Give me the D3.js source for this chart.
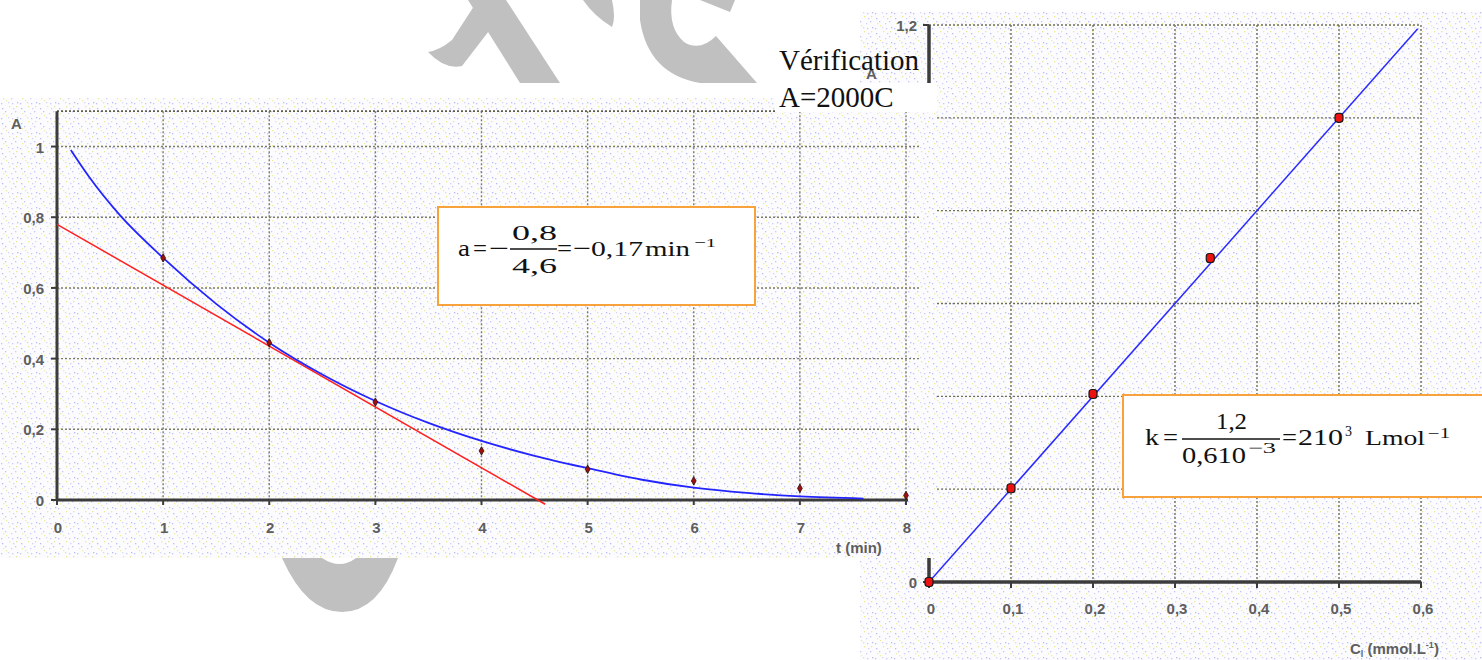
<!DOCTYPE html>
<html>
<head>
<meta charset="utf-8">
<script src="https://cdn.jsdelivr.net/npm/d3@7"></script>
<style>
  body { margin: 0; background: #fff; }
  svg { display: block; }
  .tick-lbl { font-family: "Liberation Sans", Arial, sans-serif; font-size: 15px; font-weight: bold; fill: #5e5e5e; }
  .eq { font-family: "Liberation Serif", "Times New Roman", serif; fill: #111; }
</style>
</head>
<body>
<div id="chart"></div>
<script>
// ---- data: left chart, A = f(t) ----
var tValues = [1, 2, 3, 4, 5, 6, 7, 8];
var aValues = [0.685, 0.445, 0.277, 0.139, 0.087, 0.054, 0.033, 0.013];
var fitT = [0.13, 0.3, 0.58, 1, 1.5, 2, 2.5, 3, 3.5, 4, 4.5, 5, 5.5, 6, 6.5, 7, 7.6];
var fitA = [0.99, 0.915, 0.81, 0.685, 0.555, 0.445, 0.355, 0.28, 0.218, 0.167, 0.125, 0.09, 0.058, 0.035, 0.02, 0.01, 0.004];
var tangentT = [0, 4.6];
var tangentA = [0.78, -0.012];
var tTicks = [0, 1, 2, 3, 4, 5, 6, 7, 8];
var aTicks = [0, 0.2, 0.4, 0.6, 0.8, 1];

// ---- data: right chart, A = f(C) ----
var cValues = [0, 0.1, 0.2, 0.343, 0.5];
var absValues = [0, 0.202, 0.405, 0.698, 1.0];
var lineC = [0, 0.596];
var lineA = [0, 1.192];
var cTicks = [0, 0.1, 0.2, 0.3, 0.4, 0.5, 0.6];
var absTicks = [0, 0.2, 0.4, 0.6, 0.8, 1, 1.2];

var W = 1482, H = 660;
var fmt = function(d) { return String(+d.toFixed(2)).replace('.', ','); };

var svg = d3.select('#chart').append('svg')
  .attr('width', W)
  .attr('height', H);

svg.append('rect').attr('width', W).attr('height', H).attr('fill', '#fff');

// speckled scan texture
var defs = svg.append('defs');
var pat = defs.append('pattern')
  .attr('id', 'speckle')
  .attr('patternUnits', 'userSpaceOnUse')
  .attr('width', 19).attr('height', 15);
pat.append('rect').attr('width', 19).attr('height', 15).attr('fill', '#fcfcff');
[[2,3,'#b9bcf0'],[9,1,'#eeea88'],[15,6,'#c4c6f3'],[17,12,'#b9bcf0'],[6,10,'#f2ee96'],
 [12,13,'#c8caf4'],[16,1,'#e6e39a'],[1,13,'#bfc1f2'],[11,8,'#d0d2f6'],[5,6,'#c6c8f3'],
 [8,12,'#d6d8f7'],[13,3,'#cfd1f5'],[3,8,'#efec9e']]
  .forEach(function(p) {
    pat.append('rect').attr('x', p[0]).attr('y', p[1]).attr('width', 1.3).attr('height', 1.3).attr('fill', p[2]);
  });

// ---- grey watermark pieces ----
var wm = svg.append('g').attr('fill', '#c0c0c0');
wm.append('path').attr('d', 'M428,52 Q445,70 462,66 L505,10 L497,0 L478,0 L452,40 Q440,50 428,52 Z');
wm.append('path').attr('d', 'M468,0 L506,0 L560,83 L520,83 Z');
wm.append('path').attr('d', 'M583,0 L612,0 Q616,18 612,27 Q594,16 583,0 Z');
wm.append('path').attr('d', 'M640,0 L672,0 Q668,28 684,42 Q700,52 716,36 L757,83 L700,83 Q648,74 640,20 Z');
wm.append('path').attr('d', 'M700,0 L735,0 L730,12 Z');
wm.append('path').attr('d', 'M282,558 L322,558 Q340,570 356,558 L398,558 Q378,612 342,612 Q306,612 282,558 Z');

// ================= right chart =================
var xR = d3.scaleLinear().domain([0, 0.6]).range([929, 1421]);
var yR = d3.scaleLinear().domain([0, 1.2]).range([582, 25]);

var right = svg.append('g');
right.append('rect').attr('x', 860).attr('y', 12).attr('width', W - 860).attr('height', H - 12)
  .attr('fill', 'url(#speckle)');

right.append('g').selectAll('line').data(absTicks.slice(1)).enter().append('line')
  .attr('x1', xR(0)).attr('x2', xR(0.6))
  .attr('y1', function(d) { return yR(d); }).attr('y2', function(d) { return yR(d); })
  .attr('stroke', '#6f6f58').attr('stroke-width', 1.4).attr('stroke-dasharray', '2,2');
right.append('g').selectAll('line').data(cTicks.slice(1)).enter().append('line')
  .attr('x1', function(d) { return xR(d); }).attr('x2', function(d) { return xR(d); })
  .attr('y1', yR(1.2)).attr('y2', yR(0))
  .attr('stroke', '#6f6f58').attr('stroke-width', 1.4).attr('stroke-dasharray', '2,2');

// axes
right.append('line').attr('x1', xR(0)).attr('x2', xR(0.6)).attr('y1', yR(0)).attr('y2', yR(0))
  .attr('stroke', '#3c3c3c').attr('stroke-width', 3.5);
right.append('line').attr('x1', xR(0)).attr('x2', xR(0)).attr('y1', yR(1.2)).attr('y2', yR(0))
  .attr('stroke', '#3c3c3c').attr('stroke-width', 3.5);
right.append('g').selectAll('line').data(cTicks).enter().append('line')
  .attr('x1', function(d) { return xR(d); }).attr('x2', function(d) { return xR(d); })
  .attr('y1', yR(0)).attr('y2', yR(0) + 6)
  .attr('stroke', '#3c3c3c').attr('stroke-width', 2);
right.append('g').selectAll('line').data(absTicks).enter().append('line')
  .attr('x1', xR(0) - 6).attr('x2', xR(0))
  .attr('y1', function(d) { return yR(d); }).attr('y2', function(d) { return yR(d); })
  .attr('stroke', '#3c3c3c').attr('stroke-width', 2);

right.append('g').selectAll('text').data(cTicks).enter().append('text')
  .attr('class', 'tick-lbl')
  .attr('x', function(d) { return xR(d) + 2; })
  .attr('y', yR(0) + 32)
  .attr('text-anchor', 'middle')
  .text(fmt);
right.append('g').selectAll('text').data(absTicks).enter().append('text')
  .attr('class', 'tick-lbl')
  .attr('x', xR(0) - 12)
  .attr('y', function(d) { return yR(d) + 6; })
  .attr('text-anchor', 'end')
  .text(fmt);
right.append('text').attr('class', 'tick-lbl').attr('x', 866).attr('y', 79).style('font-size', '15px').text('A');

var cLbl = right.append('text').attr('class', 'tick-lbl').attr('x', 1350).attr('y', 654);
cLbl.append('tspan').text('C');
cLbl.append('tspan').attr('dy', 3).style('font-size', '9px').text('l');
cLbl.append('tspan').attr('dy', -3).text(' (mmol.L');
cLbl.append('tspan').attr('dy', -6).style('font-size', '9px').text('-1');
cLbl.append('tspan').attr('dy', 6).text(')');

var lineR = d3.line().x(function(d) { return xR(d[0]); }).y(function(d) { return yR(d[1]); });
right.append('path').datum(d3.zip(lineC, lineA))
  .attr('d', lineR).attr('fill', 'none').attr('stroke', '#2a2aff').attr('stroke-width', 1.5);
right.append('g').selectAll('rect').data(d3.zip(cValues, absValues)).enter().append('rect')
  .attr('x', function(d) { return xR(d[0]) - 4; })
  .attr('y', function(d) { return yR(d[1]) - 4.5; })
  .attr('width', 8).attr('height', 9).attr('rx', 3)
  .attr('fill', '#ee1111').attr('stroke', '#1a1a1a').attr('stroke-width', 1.2);

// ================= left chart =================
var xL = d3.scaleLinear().domain([0, 8]).range([57, 906]);
var yL = d3.scaleLinear().domain([0, 1.1]).range([500, 111.2]);

var left = svg.append('g');
left.append('rect').attr('x', 0).attr('y', 98).attr('width', 936).attr('height', 460)
  .attr('fill', 'url(#speckle)');

left.append('g').selectAll('line').data(aTicks.slice(1).concat([1.1])).enter().append('line')
  .attr('x1', xL(0)).attr('x2', 920)
  .attr('y1', function(d) { return yL(d); }).attr('y2', function(d) { return yL(d); })
  .attr('stroke', function(d) { return d === 1.1 ? '#5e5e4a' : '#7c7c64'; })
  .attr('stroke-width', function(d) { return d === 1.1 ? 1.8 : 1.4; })
  .attr('stroke-dasharray', '2,2');
left.append('g').selectAll('line').data(tTicks.slice(1)).enter().append('line')
  .attr('x1', function(d) { return xL(d); }).attr('x2', function(d) { return xL(d); })
  .attr('y1', yL(1.1)).attr('y2', yL(0))
  .attr('stroke', '#7c7c64').attr('stroke-width', 1.4).attr('stroke-dasharray', '2,2');

left.append('line').attr('x1', xL(0)).attr('x2', xL(8) + 2).attr('y1', yL(0)).attr('y2', yL(0))
  .attr('stroke', '#3c3c3c').attr('stroke-width', 3);
left.append('line').attr('x1', xL(0)).attr('x2', xL(0)).attr('y1', yL(1.1)).attr('y2', yL(0) + 1)
  .attr('stroke', '#3c3c3c').attr('stroke-width', 3);
left.append('g').selectAll('line').data(tTicks).enter().append('line')
  .attr('x1', function(d) { return xL(d); }).attr('x2', function(d) { return xL(d); })
  .attr('y1', yL(0)).attr('y2', yL(0) + 5)
  .attr('stroke', '#3c3c3c').attr('stroke-width', 2);
left.append('g').selectAll('line').data(aTicks).enter().append('line')
  .attr('x1', xL(0) - 6).attr('x2', xL(0))
  .attr('y1', function(d) { return yL(d); }).attr('y2', function(d) { return yL(d); })
  .attr('stroke', '#3c3c3c').attr('stroke-width', 2);

left.append('g').selectAll('text').data(tTicks).enter().append('text')
  .attr('class', 'tick-lbl')
  .attr('x', function(d) { return xL(d) + 1; })
  .attr('y', yL(0) + 33)
  .attr('text-anchor', 'middle')
  .text(fmt);
left.append('g').selectAll('text').data(aTicks).enter().append('text')
  .attr('class', 'tick-lbl')
  .attr('x', 44)
  .attr('y', function(d) { return yL(d) + 6; })
  .attr('text-anchor', 'end')
  .text(fmt);
left.append('text').attr('class', 'tick-lbl').attr('x', 11).attr('y', 129).text('A');
left.append('text').attr('class', 'tick-lbl').attr('x', 836).attr('y', 553).text('t (min)');

var lineL = d3.line().x(function(d) { return xL(d[0]); }).y(function(d) { return yL(d[1]); });
left.append('path').datum(d3.zip(tangentT, tangentA))
  .attr('d', lineL).attr('fill', 'none').attr('stroke', '#ff2020').attr('stroke-width', 1.5);
left.append('path').datum(d3.zip(fitT, fitA))
  .attr('d', lineL.curve(d3.curveMonotoneX)).attr('fill', 'none').attr('stroke', '#2424ff').attr('stroke-width', 1.8);
left.append('g').selectAll('path').data(d3.zip(tValues, aValues)).enter().append('path')
  .attr('d', d3.symbol(d3.symbolDiamond, 20))
  .attr('transform', function(d) { return 'translate(' + xL(d[0]) + ',' + yL(d[1]) + ')'; })
  .attr('fill', '#a01010').attr('stroke', '#2a0a0a').attr('stroke-width', 0.8);

// ---- white text box with the check ----
svg.append('rect').attr('x', 775).attr('y', 83).attr('width', 162).attr('height', 29).attr('fill', '#fff');
svg.append('text').attr('class', 'eq').attr('x', 779).attr('y', 70).style('font-size', '29px').text('Vérification');
svg.append('text').attr('class', 'eq').attr('x', 779).attr('y', 107).style('font-size', '29px').text('A=2000C');

// ---- equation boxes ----
function piece(g, txt, x, y, size, len, anchor) {
  var t = g.append('text').attr('class', 'eq').attr('x', x).attr('y', y)
    .style('font-size', size + 'px').text(txt);
  if (anchor) t.attr('text-anchor', anchor);
  if (len) t.attr('textLength', len).attr('lengthAdjust', 'spacingAndGlyphs');
  return t;
}

var eq1 = svg.append('g');
eq1.append('rect').attr('x', 438).attr('y', 207).attr('width', 317).attr('height', 98)
  .attr('fill', '#fff').attr('stroke', '#f7a23a').attr('stroke-width', 2);
piece(eq1, 'a', 458, 256, 23, 12);
piece(eq1, '=', 473, 256, 23, 14);
piece(eq1, '\u2212', 489, 256, 23, 20);
piece(eq1, '0,8', 512, 240, 22, 45);
eq1.append('line').attr('x1', 510).attr('x2', 557).attr('y1', 249).attr('y2', 249)
  .attr('stroke', '#111').attr('stroke-width', 1.3);
piece(eq1, '4,6', 512, 273, 22, 45);
piece(eq1, '=', 557, 256, 23, 15);
piece(eq1, '\u2212', 573, 256, 23, 18);
piece(eq1, '0,17', 591, 256, 22, 52);
piece(eq1, 'min', 645, 256, 22, 45);
piece(eq1, '\u22121', 694, 247, 13, 22);

var eq2 = svg.append('g');
eq2.append('rect').attr('x', 1123).attr('y', 395).attr('width', 365).attr('height', 102)
  .attr('fill', '#fff').attr('stroke', '#f7a23a').attr('stroke-width', 2);
piece(eq2, 'k', 1145, 445, 24, 14);
piece(eq2, '=', 1163, 445, 24, 15);
piece(eq2, '1,2', 1216, 429, 24, 31);
eq2.append('line').attr('x1', 1182).attr('x2', 1280).attr('y1', 439).attr('y2', 439)
  .attr('stroke', '#111').attr('stroke-width', 1.3);
piece(eq2, '0,610', 1182, 463, 24, 64);
piece(eq2, '\u22123', 1248, 453, 15, 28);
piece(eq2, '=', 1282, 445, 24, 15);
piece(eq2, '210', 1298, 445, 24, 45);
piece(eq2, '3', 1345, 436, 14, 7);
piece(eq2, 'Lmol', 1365, 445, 22, 60);
piece(eq2, '\u22121', 1428, 438, 14, 22);
</script>
</body>
</html>
